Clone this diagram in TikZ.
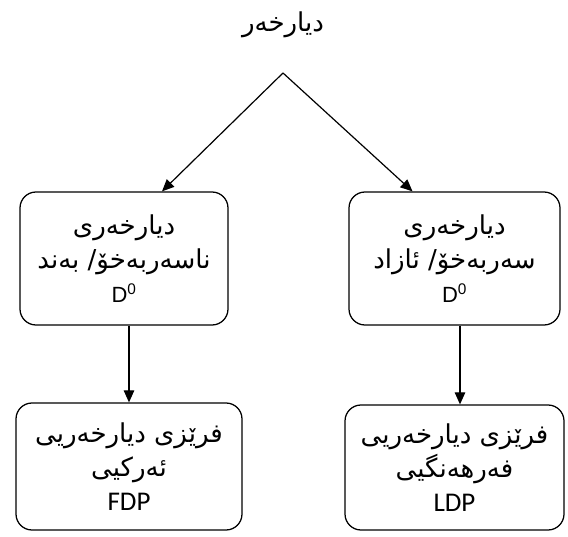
\documentclass[tikz,border=0pt]{standalone}
\usepackage{fontspec}
\setmainfont{Liberation Sans}
\newfontfamily\kurdish[Script=Arabic]{DejaVu Sans}
\newfontfamily\calib{Carlito}
\TeXXeTstate=1
\usetikzlibrary{arrows.meta}
\newcommand{\rtl}[1]{{\kurdish\fontsize{26}{34}\selectfont\beginR #1\endR}}
\newcommand{\dzero}{{\fontsize{22}{34}\selectfont D\textsuperscript{0}}}
\newcommand{\abbr}[1]{{\calib\fontsize{27}{34}\selectfont #1}}
\begin{document}
\begin{tikzpicture}[x=1pt,y=1pt,
  box/.style={draw, line width=1.25pt, rounded corners=16pt, align=center,
    inner sep=0pt, font=\fontsize{22}{34}\selectfont},
  arr/.style={line width=1.2pt, -{Triangle[length=12pt,width=10.5pt]}},
  title/.style={font=\fontsize{22}{26}\selectfont}]
\useasboundingbox (0,0) rectangle (568,536);

% heading
\node[title] (top) at (283,511) {\rtl{دیارخەر}};
\coordinate (apex) at (283,463);

% first level
\node[box, minimum width=208pt, minimum height=133pt] (L1) at (124,277.5)
  {\rtl{دیارخەری}\\ \rtl{ناسەربەخۆ/ بەند}\\ \dzero};
\node[box, minimum width=211pt, minimum height=133pt] (R1) at (454.5,277.5)
  {\rtl{دیارخەری}\\ \rtl{سەربەخۆ/ ئازاد}\\ \dzero};

% second level
\node[box, minimum width=226pt, minimum height=127pt] (L2) at (129,69.5)
  {\rtl{فرێزی دیارخەریی}\\ \rtl{ئەرکیی}\\ \abbr{FDP}};
\node[box, minimum width=219pt, minimum height=125pt] (R2) at (454.5,68.5)
  {\rtl{فرێزی دیارخەریی}\\ \rtl{فەرهەنگیی}\\ \abbr{LDP}};

\coordinate (rx) at (460,0);

% connectors
\draw[arr] (apex) -- ([xshift=38pt]L1.north);
\draw[arr] (apex) -- ([xshift=-42pt]R1.north);
\draw[arr] (L1.south -| L2.north) -- (L2.north);
\draw[arr] (R1.south -| rx) -- (R2.north -| rx);
\end{tikzpicture}
\end{document}
